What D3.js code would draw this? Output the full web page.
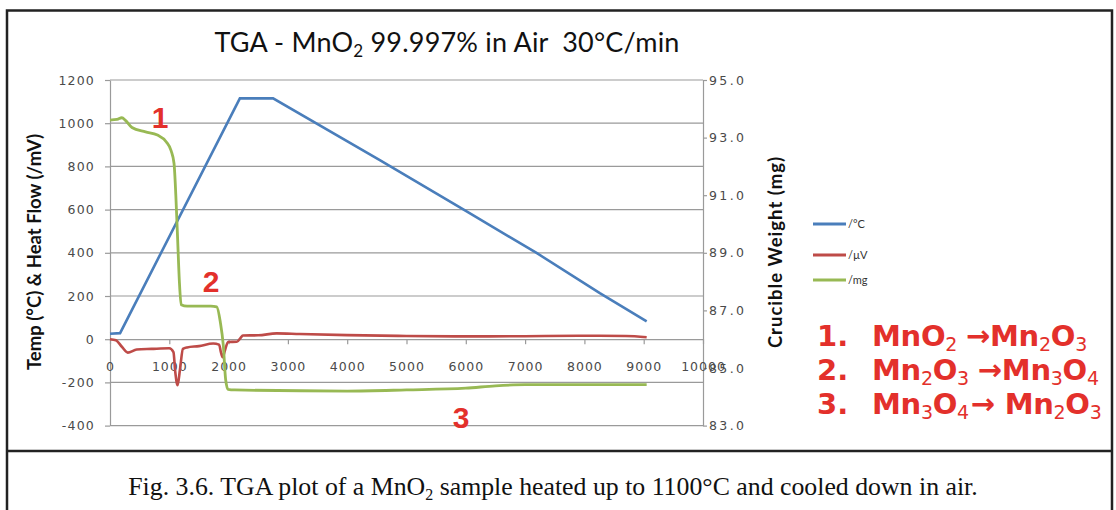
<!DOCTYPE html>
<html>
<head>
<meta charset="utf-8">
<script src="https://cdnjs.cloudflare.com/ajax/libs/d3/7.8.5/d3.min.js"></script>
<style>
    body { margin: 0; background: #fff; }
    svg { display: block; }
</style>
</head>
<body>
<div id="chart"></div>
<script>
// time axis ticks (s) and the two value axes
var timeTicks = [0, 1000, 2000, 3000, 4000, 5000, 6000, 7000, 8000, 9000, 10000];
var leftTicks = [1200, 1000, 800, 600, 400, 200, 0, -200, -400];
var rightTicks = [95, 93, 91, 89, 87, 85, 83];

// /°C  (left axis)
var tempTime = [0, 170, 2190, 2750, 4550, 6000, 7200, 8260, 9050];
var tempValues = [25, 28, 1115, 1115, 829, 594, 398, 213, 83];

// /µV  (left axis)
var heatTime = [0, 100, 200, 300, 450, 700, 1000, 1070, 1100, 1140, 1180, 1230, 1300, 1500, 1740,
    1840, 1870, 1900, 1935, 1990, 2140, 2200, 2240, 2500, 2810, 3200, 4000, 5000, 6000, 7000, 8000, 8700, 9050];
var heatValues = [0, -5, -35, -62, -48, -45, -42, -60, -150, -213, -140, -45, -38, -32, -20,
    -25, -60, -83, -55, -13, -12, 5, 17, 18, 27, 24, 19, 15, 13, 14, 16, 15, 9];

// /mg  (right axis)
var weightTime = [0, 120, 200, 260, 370, 600, 800, 950, 1030, 1080, 1110, 1140, 1170, 1200, 1300, 1700,
    1800, 1860, 1910, 1950, 1990, 2100, 4000, 5000, 6000, 6500, 7000, 9050];
var weightValues = [93.61, 93.63, 93.69, 93.6, 93.35, 93.2, 93.09, 92.85, 92.55, 92.1, 91.0, 89.5, 88.0, 87.2, 87.15, 87.15,
    87.12, 86.6, 85.8, 84.6, 84.26, 84.24, 84.2, 84.24, 84.3, 84.38, 84.42, 84.42];

var legendLabels = ['/°C', '/µV', '/mg'];
var colors = ['#4a7ebb', '#be4b48', '#98b954'];

var width = 1116, height = 510;
var svg = d3.select('#chart').append('svg')
    .attr('width', width)
    .attr('height', height);

// frame round the figure and the caption
svg.append('path')
    .attr('d', 'M7,520 V10.5 H1112 V520 M7,451 H1112')
    .style('fill', 'none')
    .style('stroke', '#222')
    .style('stroke-width', 2.5);

var x = d3.scaleLinear().domain([0, 10000]).range([110, 703]);
var yL = d3.scaleLinear().domain([-400, 1200]).range([425.6, 80]);
var yR = d3.scaleLinear().domain([83, 95]).range([425.6, 80]);

var gridColor = '#9a9a9a';
var tickFont = '"DejaVu Sans", sans-serif';

// horizontal grid lines
svg.append('g').selectAll('line')
    .data(leftTicks.filter(function(d) { return d !== 0; }))
    .enter().append('line')
    .attr('x1', x(0))
    .attr('x2', x(10000))
    .attr('y1', function(d) { return yL(d); })
    .attr('y2', function(d) { return yL(d); })
    .style('stroke', gridColor)
    .style('stroke-width', 1.2);

function styleAxis(g, spacing) {
    g.selectAll('path, line').style('stroke', gridColor).style('stroke-width', 1.2);
    g.selectAll('text')
        .style('font-family', tickFont)
        .style('font-size', '12.5px')
        .style('letter-spacing', spacing)
        .style('fill', '#4a4a4a');
}

function plain(d) { return String(d); }

svg.append('g')
    .attr('transform', 'translate(' + x(0) + ',0)')
    .call(d3.axisLeft(yL).tickValues(leftTicks).tickSize(5).tickSizeOuter(0).tickPadding(10)
        .tickFormat(plain))
    .call(styleAxis, '1.2px');

svg.append('g')
    .attr('transform', 'translate(' + x(10000) + ',0)')
    .call(d3.axisRight(yR).tickValues(rightTicks).tickSize(4).tickSizeOuter(0).tickPadding(2)
        .tickFormat(function(d) { return d.toFixed(1); }))
    .call(styleAxis, '2.4px');

svg.append('g')
    .attr('transform', 'translate(0,' + yL(0) + ')')
    .call(d3.axisBottom(x).tickValues(timeTicks).tickSize(5).tickSizeOuter(0).tickPadding(18)
        .tickFormat(plain))
    .call(styleAxis, '1px');

// series
var lineL = d3.line().x(function(d) { return x(d[0]); }).y(function(d) { return yL(d[1]); });
var lineR = d3.line().x(function(d) { return x(d[0]); }).y(function(d) { return yR(d[1]); })
    .curve(d3.curveMonotoneX);

svg.append('path')
    .attr('d', lineL(d3.zip(tempTime, tempValues)))
    .style('fill', 'none').style('stroke', colors[0]).style('stroke-width', 2.6);
svg.append('path')
    .attr('d', lineL.curve(d3.curveMonotoneX)(d3.zip(heatTime, heatValues)))
    .style('fill', 'none').style('stroke', colors[1]).style('stroke-width', 2.6);
svg.append('path')
    .attr('d', lineR(d3.zip(weightTime, weightValues)))
    .style('fill', 'none').style('stroke', colors[2]).style('stroke-width', 2.8);

// title
var title = svg.append('text')
    .attr('x', 447)
    .attr('y', 52)
    .attr('text-anchor', 'middle')
    .style('white-space', 'pre')
    .style('font-family', 'Lato, sans-serif')
    .style('font-size', '27px')
    .style('letter-spacing', '0.2px')
    .style('fill', '#111');
title.append('tspan').text('TGA - MnO');
title.append('tspan').attr('dy', 5).style('font-size', '17px').text('2');
title.append('tspan').attr('dy', -5).text(' 99.997% in Air  30°C/min');

// axis titles
svg.append('text')
    .attr('transform', 'translate(41,252) rotate(-90)')
    .attr('text-anchor', 'middle')
    .style('font-family', 'Lato, sans-serif')
    .style('font-weight', 'bold')
    .style('font-size', '18.5px')
    .style('fill', '#111')
    .text('Temp (°C) & Heat Flow (/mV)');
svg.append('text')
    .attr('transform', 'translate(782,252) rotate(-90)')
    .attr('text-anchor', 'middle')
    .style('font-family', 'Lato, sans-serif')
    .style('font-weight', 'bold')
    .style('font-size', '18.5px')
    .style('letter-spacing', '1px')
    .style('fill', '#111')
    .text('Crucible Weight (mg)');

// legend
var legendY = [224, 255, 280];
var legend = svg.append('g').selectAll('g')
    .data(legendLabels)
    .enter().append('g')
    .attr('transform', function(d, i) { return 'translate(813,' + legendY[i] + ')'; });
legend.append('line')
    .attr('x1', 0).attr('x2', 33)
    .style('stroke', function(d, i) { return colors[i]; })
    .style('stroke-width', 3);
legend.append('text')
    .attr('x', 35)
    .attr('dy', '0.35em')
    .style('font-family', 'Lato, sans-serif')
    .style('font-size', '11px')
    .style('fill', '#333')
    .text(function(d) { return d; });

// step numbers on the curves
var red = '#e3302b';
var stepLabels = [['1', 160, 128], ['2', 211, 292], ['3', 461, 428]];
svg.append('g').selectAll('text')
    .data(stepLabels)
    .enter().append('text')
    .attr('x', function(d) { return d[1]; })
    .attr('y', function(d) { return d[2]; })
    .attr('text-anchor', 'middle')
    .style('font-family', '"Liberation Sans", sans-serif')
    .style('font-weight', 'bold')
    .style('font-size', '30px')
    .style('fill', red)
    .text(function(d) { return d[0]; });

// reactions: [number, [text, subscript?] ...]
var reactions = [
    ['1.', [['MnO'], ['2', 1], ['\u2192Mn'], ['2', 1], ['O'], ['3', 1]]],
    ['2.', [['Mn'], ['2', 1], ['O'], ['3', 1], ['\u2192Mn'], ['3', 1], ['O'], ['4', 1]]],
    ['3.', [['Mn'], ['3', 1], ['O'], ['4', 1], ['\u2192 Mn'], ['2', 1], ['O'], ['3', 1]]]
];
var reactionY = [346, 380, 414];
reactions.forEach(function(r, i) {
    var g = svg.append('g')
        .style('font-family', '"DejaVu Sans", sans-serif')
        .style('font-weight', 'bold')
        .style('fill', red);
    g.append('text')
        .attr('x', 817).attr('y', reactionY[i])
        .style('font-size', '29px')
        .text(r[0]);
    var t = g.append('text')
        .attr('x', 872).attr('y', reactionY[i])
        .style('font-size', '29px')
        .style('letter-spacing', '-0.3px');
    r[1].forEach(function(p) {
        t.append('tspan')
            .attr('y', reactionY[i] + (p[1] ? 5 : 0))
            .attr('dx', p[0] === '\u2192Mn' ? 9 : (p[0].charAt(0) === '\u2192' ? 2 : 0))
            .style('font-size', p[1] ? '19px' : '29px')
            .style('font-weight', p[1] ? 'normal' : 'bold')
            .text(p[0]);
    });
});

// caption
var caption = svg.append('text')
    .attr('x', 553)
    .attr('y', 495)
    .attr('text-anchor', 'middle')
    .style('font-family', '"Liberation Serif", serif')
    .style('font-size', '25.8px')
    .style('fill', '#111');
caption.append('tspan').text('Fig. 3.6. TGA plot of a MnO');
caption.append('tspan').attr('dy', 5).style('font-size', '16px').text('2');
caption.append('tspan').attr('dy', -5).text(' sample heated up to 1100°C and cooled down in air.');
</script>
</body>
</html>
